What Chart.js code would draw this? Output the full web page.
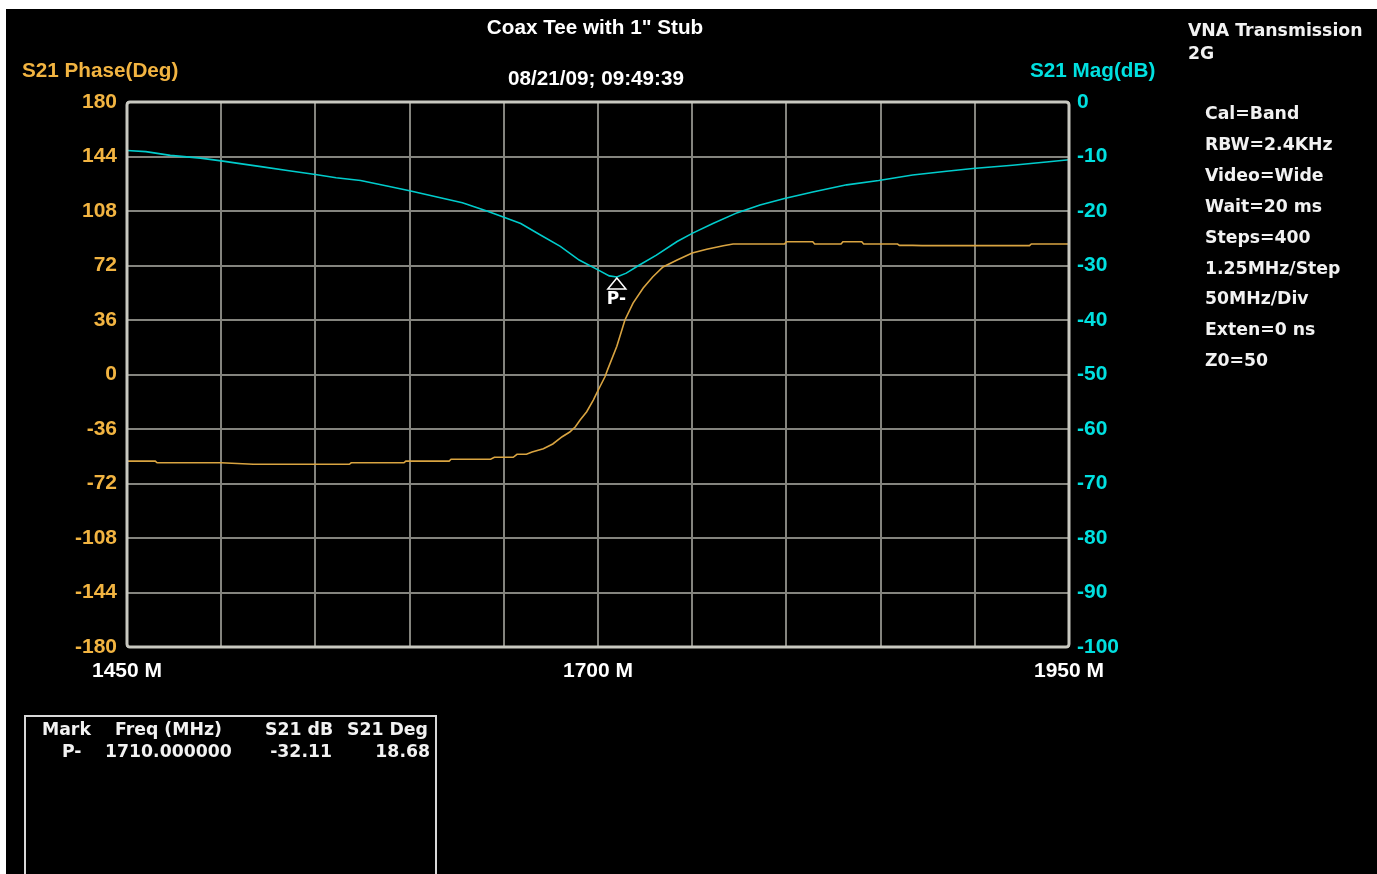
<!DOCTYPE html>
<html>
<head>
<meta charset="utf-8">
<script src="https://cdn.jsdelivr.net/npm/chart.js@4.4.1/dist/chart.umd.min.js"></script>
<style>
  html, body { margin:0; padding:0; background:#ffffff; width:1377px; height:874px; overflow:hidden; }
  #wrap { position:absolute; left:6px; top:9px; width:1371px; height:865px; background:#000; }
  .t { position:absolute; white-space:nowrap; line-height:20px; height:20px; }
  .arial { font-family:"Liberation Sans", Arial, sans-serif; font-weight:bold; font-size:20.7px; }
  .pix { font-family:"DejaVu Sans", Verdana, sans-serif; font-weight:bold; font-size:17.3px; color:#f2f2f2; }
  .c { transform:translateX(-50%); }
  .r { transform:translateX(-100%); }
  #box { position:absolute; left:24px; top:715px; width:413px; height:220px; box-sizing:border-box; border:2px solid #d8d8d8; }
</style>
</head>
<body>
<div id="wrap"><canvas id="c"></canvas></div>

<div class="t arial c" style="left:595px; top:17px; color:#ffffff;">Coax Tee with 1" Stub</div>
<div class="t arial c" style="left:596px; top:68px; color:#ffffff;">08/21/09; 09:49:39</div>
<div class="t arial" style="left:22px; top:60px; color:#f2b441;">S21 Phase(Deg)</div>
<div class="t arial" style="left:1030px; top:60px; color:#00e0e0;">S21 Mag(dB)</div>

<div class="t pix" style="left:1188px; top:20px;">VNA Transmission</div>
<div class="t pix" style="left:1188px; top:43px;">2G</div>
<div id="info"></div>

<div id="box"></div>
<div class="t pix" style="left:42px; top:719px;">Mark</div>
<div class="t pix" style="left:115px; top:719px;">Freq (MHz)</div>
<div class="t pix" style="left:265px; top:719px;">S21 dB</div>
<div class="t pix" style="left:347px; top:719px;">S21 Deg</div>
<div class="t pix" style="left:62px; top:741px;">P-</div>
<div class="t pix" style="left:105px; top:741px;">1710.000000</div>
<div class="t pix r" style="left:332px; top:741px;">-32.11</div>
<div class="t pix r" style="left:430px; top:741px;">18.68</div>

<script>
// ---------- data ----------
const infoLines = ["Cal=Band","RBW=2.4KHz","Video=Wide","Wait=20 ms","Steps=400","1.25MHz/Step","50MHz/Div","Exten=0 ns","Z0=50"];

const xTickLabels = [1450, 1700, 1950];

const magFreq = [1450,1460,1473,1489,1500,1510,1522,1536,1550,1561,
                 1574,1588,1600,1614,1628,1641,1649,1659,1669,1680,
                 1690,1700,1706,1710,1715,1722,1731,1742,1750,1761,
                 1774,1786,1799,1814,1832,1849,1867,1885,1899,1920,
                 1938,1950];
const magDb   = [-8.9,-9.1,-9.8,-10.3,-10.8,-11.3,-11.9,-12.6,-13.3,-13.9,
                 -14.4,-15.4,-16.3,-17.4,-18.5,-20.0,-21.0,-22.3,-24.3,-26.5,
                 -29.0,-30.8,-31.9,-32.11,-31.4,-29.9,-28.1,-25.6,-24.1,-22.3,
                 -20.3,-18.9,-17.7,-16.5,-15.2,-14.4,-13.4,-12.7,-12.2,-11.6,
                 -11.0,-10.6];

const phaseFreq = [1450,1465,1466,1500,1517,1568,1569,1597,1598,1621,
                   1622,1643,1645,1655,1657,1662,1665,1671,1676,1681,
                   1685,1688,1690.5,1694,1697.5,1701,1703.7,1705,1710,1714.3,
                   1718.6,1724,1729,1734.5,1742,1750,1757.7,1766.5,1771.7,1799,
                   1800,1814,1815,1829,1830,1840,1841,1859,1860,1867,
                   1872,1929,1930,1950];
const phaseDeg  = [-57.2,-57.2,-58.3,-58.3,-59.3,-59.3,-58.3,-58.3,-57.2,-57.2,
                   -56.0,-56.0,-54.7,-54.7,-52.7,-52.7,-51.2,-49,-45.9,-41.1,
                   -38,-34.5,-30.1,-24.6,-16.9,-8.1,-1.5,2.9,18.68,36,
                   47.2,57.1,64.4,71,75.6,80.2,82.7,85.1,86.2,86.2,
                   87.7,87.7,86.2,86.2,87.7,87.7,86.2,86.2,85.3,85.3,
                   85.1,85.1,86.2,86.2];

const markerName = "P-";
const markerFreq = 1710;
const markerDb = -32.11;

// ---------- info panel text ----------
const info = document.getElementById('info');
infoLines.forEach((s, i) => {
  const d = document.createElement('div');
  d.className = 't pix';
  d.style.left = '1205px';
  d.style.top = (103 + i * 30.9) + 'px';
  d.textContent = s;
  info.appendChild(d);
});

// ---------- chart ----------
const ORANGE_TXT = '#f2b441', CYAN_TXT = '#00e0e0';
const ORANGE = '#d9a441', CYAN = '#00cccc';
const GRID = '#84847e', FRAME = '#c8c8c0';
const tickFont = { family: '"Liberation Sans", Arial, sans-serif', weight: 'bold', size: 21 };

const framePlugin = {
  id: 'frame',
  afterDatasetsDraw(chart) {
    const { ctx, chartArea: a, scales } = chart;
    ctx.save();
    ctx.strokeStyle = FRAME;
    ctx.lineWidth = 3;
    ctx.beginPath();
    ctx.roundRect(a.left, a.top, a.right - a.left, a.bottom - a.top, 3);
    ctx.stroke();
    // marker
    const px = scales.x.getPixelForValue(markerFreq);
    const py = scales.y2.getPixelForValue(markerDb);
    ctx.strokeStyle = '#ffffff';
    ctx.lineWidth = 1.5;
    ctx.beginPath();
    ctx.moveTo(px, py + 1);
    ctx.lineTo(px - 9, py + 12);
    ctx.lineTo(px + 9, py + 12);
    ctx.closePath();
    ctx.stroke();
    ctx.fillStyle = '#ffffff';
    ctx.font = 'bold 17px "DejaVu Sans", Verdana, sans-serif';
    ctx.textBaseline = 'middle';
    ctx.textAlign = 'left';
    ctx.fillText(markerName, px - 10, py + 23);
    ctx.restore();
  }
};

const phaseData = phaseFreq.map((f, i) => ({ x: f, y: phaseDeg[i] }));
const magData = magFreq.map((f, i) => ({ x: f, y: magDb[i] }));

new Chart(document.getElementById('c'), {
  type: 'line',
  data: {
    datasets: [
      { label: 'S21 Phase(Deg)', data: phaseData, yAxisID: 'y', borderColor: ORANGE, borderWidth: 1.6, pointRadius: 0, tension: 0 },
      { label: 'S21 Mag(dB)', data: magData, yAxisID: 'y2', borderColor: CYAN, borderWidth: 1.6, pointRadius: 0, tension: 0 }
    ]
  },
  options: {
    responsive: true,
    maintainAspectRatio: false,
    animation: false,
    layout: { padding: { top: 93, left: 0, right: 0, bottom: 0 } },
    plugins: { legend: { display: false }, tooltip: { enabled: false } },
    scales: {
      x: {
        type: 'linear', min: 1450, max: 1950,
        afterFit(s) { s.height = 227; },
        grid: { color: GRID, lineWidth: 2, drawTicks: false },
        border: { display: false },
        ticks: {
          stepSize: 50, color: '#ffffff', font: tickFont, padding: 12, maxRotation: 0, autoSkip: false,
          callback: v => xTickLabels.includes(v) ? v + ' M' : ''
        }
      },
      y: {
        position: 'left', min: -180, max: 180,
        afterFit(s) { s.width = 121; },
        grid: { color: GRID, lineWidth: 2, drawTicks: false },
        border: { display: false },
        ticks: { stepSize: 36, color: ORANGE_TXT, font: tickFont, padding: 10, callback: v => Math.round(v) }
      },
      y2: {
        position: 'right', min: -100, max: 0,
        afterFit(s) { s.width = 308; },
        grid: { display: false, drawTicks: false },
        border: { display: false },
        ticks: { stepSize: 10, color: CYAN_TXT, font: tickFont, padding: 8, callback: v => Math.round(v) }
      }
    }
  },
  plugins: [framePlugin]
});
</script>
</body>
</html>
